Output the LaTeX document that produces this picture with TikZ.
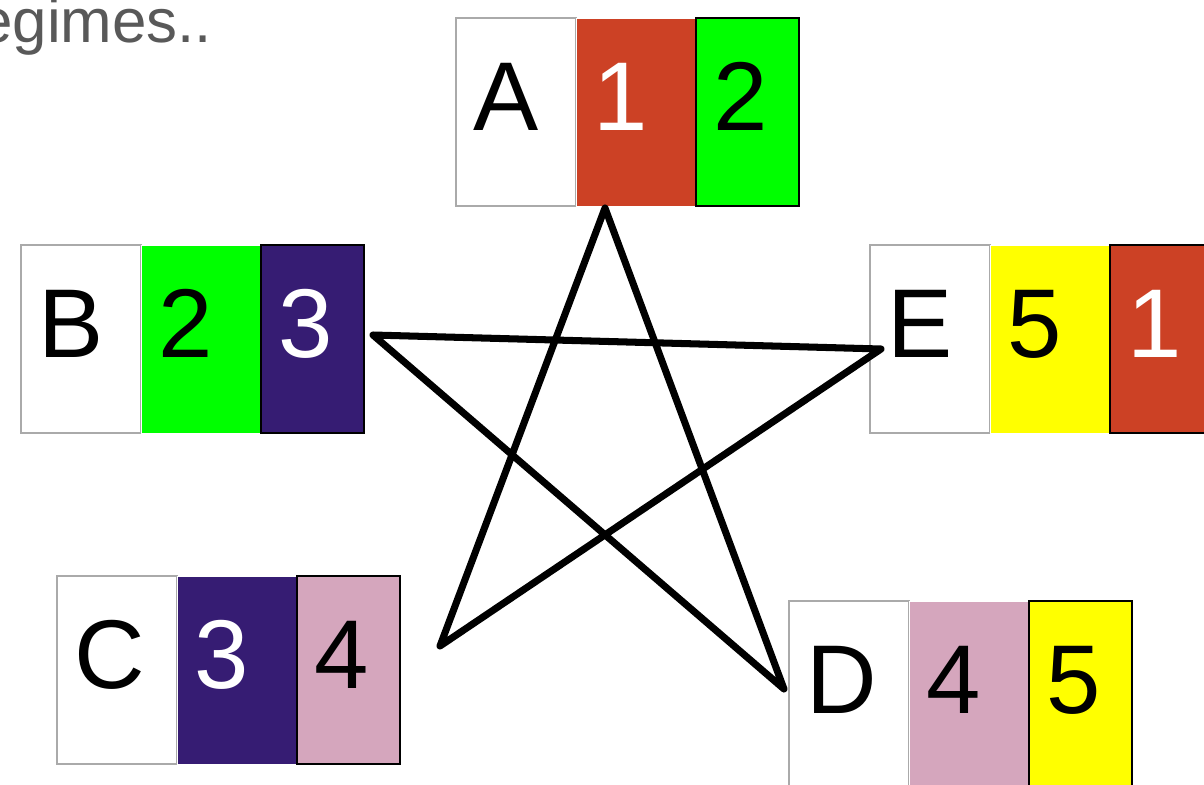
\documentclass[tikz,border=0pt]{standalone}
\usepackage{fontspec}
\setmainfont{Liberation Sans}
\usepackage{xcolor}
\usetikzlibrary{positioning}
\definecolor{cellred}{RGB}{204,65,37}
\definecolor{cellgreen}{RGB}{0,255,0}
\definecolor{cellpurple}{RGB}{54,28,115}
\definecolor{cellpink}{RGB}{213,166,189}
\definecolor{cellyellow}{RGB}{255,255,0}
\definecolor{cellgray}{RGB}{170,170,170}
\definecolor{titlegray}{RGB}{89,89,89}

\begin{document}
\begin{tikzpicture}[
  x=0.025cm, y=-0.025cm,
  cell/.style={font=\fontsize{69.5}{80}\selectfont, minimum height=4.7cm,
    inner xsep=0.425cm, inner ysep=0pt, outer sep=0pt, align=left,
    text height=1.75cm, text depth=0.85cm},
  keycell/.style={cell, text width=2.15cm, draw=cellgray, line width=1.4pt, fill=white},
  midcell/.style={cell, text width=2.15cm, draw=white, line width=0.7pt},
  endcell/.style={cell, text width=1.725cm, draw=black, line width=1.4pt},
  starline/.style={line width=5pt, line join=round, line cap=round}
]
\useasboundingbox (0,0) rectangle (1204,784);
\clip (0,0) rectangle (1204,784);

\node[anchor=base west, font=\fontsize{44}{50}\selectfont, text=titlegray,
  inner sep=0pt] (title) at (-22,42) {egimes..};

% A
\node[keycell, anchor=north west] (a) at (456,18) {A};
\node[midcell, fill=cellred, text=white, right=0pt of a] (a1) {1};
\node[endcell, fill=cellgreen, right=0pt of a1] (a2) {2};
% B
\node[keycell, anchor=north west] (b) at (21,245) {B};
\node[midcell, fill=cellgreen, right=0pt of b] (b1) {2};
\node[endcell, fill=cellpurple, text=white, right=0pt of b1] (b2) {3};
% C
\node[keycell, anchor=north west] (c) at (57,576) {C};
\node[midcell, fill=cellpurple, text=white, right=0pt of c] (c1) {3};
\node[endcell, fill=cellpink, right=0pt of c1] (c2) {4};
% D
\node[keycell, anchor=north west] (d) at (789,601) {D};
\node[midcell, fill=cellpink, right=0pt of d] (d1) {4};
\node[endcell, fill=cellyellow, right=0pt of d1] (d2) {5};
% E
\node[keycell, anchor=north west] (e) at (870,245) {E};
\node[midcell, fill=cellyellow, right=0pt of e] (e1) {5};
\node[endcell, fill=cellred, text=white, right=0pt of e1] (e2) {1};

% star points
\coordinate (pa) at (605,208);
\coordinate (pb) at (373,335);
\coordinate (pc) at (440,646);
\coordinate (pd) at (784,689);
\coordinate (pe) at (881,349);

\draw[starline] (pa) -- (pc) -- (pe) -- (pb) -- (pd) -- cycle;
\end{tikzpicture}
\end{document}
